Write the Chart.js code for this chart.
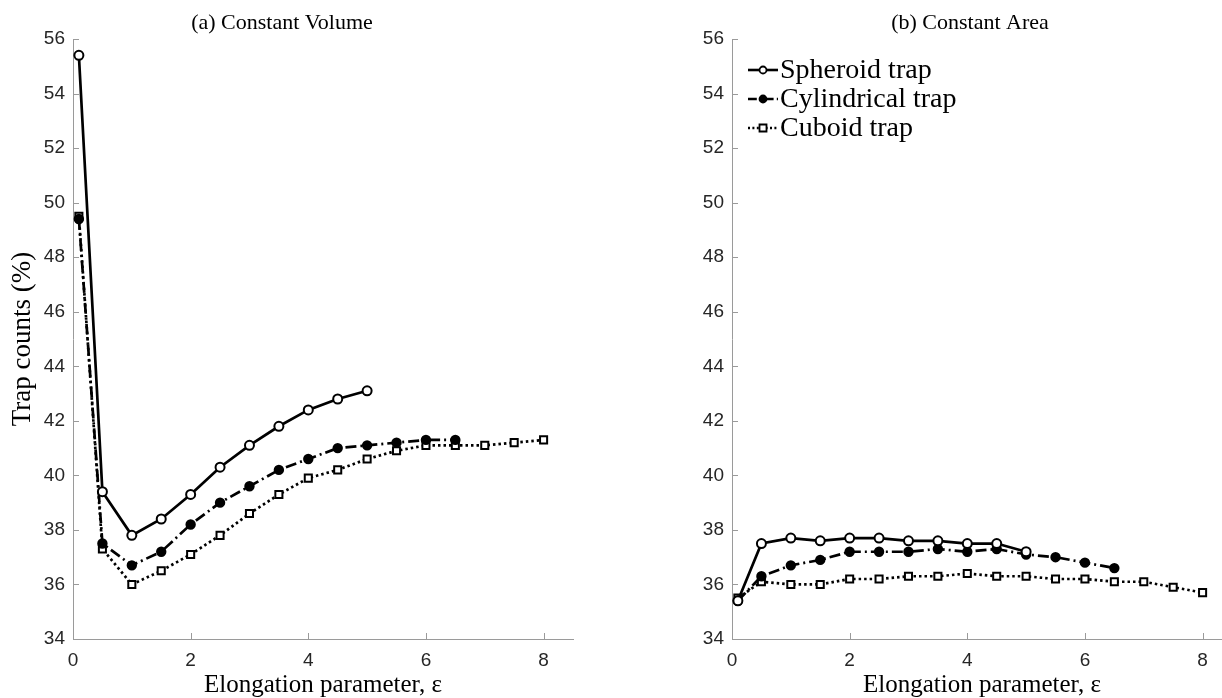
<!DOCTYPE html>
<html>
<head>
<meta charset="utf-8">
<script src="https://cdn.jsdelivr.net/npm/chart.js@4.4.1/dist/chart.umd.min.js"></script>
<style>
  body { margin: 0; background: #fff; }
  #wrap { position: relative; width: 1222px; height: 698px; overflow: hidden; }
  canvas { position: absolute; top: 0; }
  #volume { left: 0; }
  #area { left: 659px; }
</style>
</head>
<body>
<div id="wrap">
  <canvas id="volume" width="611" height="698"></canvas>
  <canvas id="area" width="611" height="698"></canvas>
</div>
<script>
// elongation parameter values shared by every series
const eps = [0.1, 0.5, 1, 1.5, 2, 2.5, 3, 3.5, 4, 4.5, 5, 5.5, 6, 6.5, 7, 7.5, 8];
const seriesNames = ['Spheroid trap', 'Cylindrical trap', 'Cuboid trap'];

// (a) constant volume
const volSpheroid = [55.4, 39.4, 37.8, 38.4, 39.3, 40.3, 41.1, 41.8, 42.4, 42.8, 43.1];
const volCylinder = [49.4, 37.5, 36.7, 37.2, 38.2, 39.0, 39.6, 40.2, 40.6, 41.0, 41.1, 41.2, 41.3, 41.3];
const volCuboid = [49.5, 37.3, 36.0, 36.5, 37.1, 37.8, 38.6, 39.3, 39.9, 40.2, 40.6, 40.9, 41.1, 41.1, 41.1, 41.2, 41.3];

// (b) constant area
const areaSpheroid = [35.4, 37.5, 37.7, 37.6, 37.7, 37.7, 37.6, 37.6, 37.5, 37.5, 37.2];
const areaCylinder = [35.4, 36.3, 36.7, 36.9, 37.2, 37.2, 37.2, 37.3, 37.2, 37.3, 37.1, 37.0, 36.8, 36.6];
const areaCuboid = [35.5, 36.1, 36.0, 36.0, 36.2, 36.2, 36.3, 36.3, 36.4, 36.3, 36.3, 36.2, 36.2, 36.1, 36.1, 35.9, 35.7];

const xTicks = [0, 2, 4, 6, 8];
const yTicks = [34, 36, 38, 40, 42, 44, 46, 48, 50, 52, 54, 56];

const SERIF = "'Liberation Serif', 'Times New Roman', serif";
const SANS = "'Liberation Sans', Arial, sans-serif";
const AXIS_GREY = '#9a9a9a';

const styles = [
    { dash: [], point: 'circle', radius: 4.5, fill: '#fff' },
    { dash: [11, 4, 2, 4], point: 'circle', radius: 4.2, fill: '#000' },
    { dash: [2.5, 3], point: 'rect', radius: 5, fill: '#fff' }
];

const toPoints = ys => ys.map((y, i) => ({ x: eps[i], y: y }));

const makeDatasets = function(seriesList) {
    return seriesList.map((ys, i) => ({
        label: seriesNames[i],
        data: toPoints(ys),
        borderColor: '#000',
        borderWidth: 2.7,
        borderDash: styles[i].dash,
        pointStyle: styles[i].point,
        pointRadius: styles[i].radius,
        pointBackgroundColor: styles[i].fill,
        pointBorderColor: '#000',
        pointBorderWidth: 2,
        tension: 0
    }));
};

// MATLAB-style ticks pointing into the axes
const innerTicks = {
    id: 'innerTicks',
    afterDraw(chart) {
        const ctx = chart.ctx;
        const area = chart.chartArea;
        const xs = chart.scales.x, ys = chart.scales.y;
        ctx.save();
        ctx.strokeStyle = AXIS_GREY;
        ctx.lineWidth = 1;
        ctx.beginPath();
        xs.ticks.forEach(t => {
            const px = Math.round(xs.getPixelForValue(t.value)) + 0.5;
            ctx.moveTo(px, area.bottom);
            ctx.lineTo(px, area.bottom - 6);
        });
        ys.ticks.forEach(t => {
            const py = Math.round(ys.getPixelForValue(t.value)) + 0.5;
            ctx.moveTo(area.left, py);
            ctx.lineTo(area.left + 6, py);
        });
        ctx.stroke();
        ctx.restore();
    }
};

const panelTitle = {
    id: 'panelTitle',
    afterDraw(chart, args, opts) {
        const ctx = chart.ctx;
        ctx.save();
        ctx.fillStyle = '#000';
        ctx.font = '22px ' + SERIF;
        ctx.textAlign = 'center';
        ctx.textBaseline = 'middle';
        ctx.fillText(opts.text, chart.chartArea.left + opts.dx, 23);
        ctx.restore();
    }
};

// legend with a short line sample and the marker in its middle
const lineLegend = {
    id: 'lineLegend',
    afterDraw(chart, args, opts) {
        if (!opts.show) return;
        const ctx = chart.ctx;
        const x0 = chart.chartArea.left + 16;
        chart.data.datasets.forEach((ds, i) => {
            const y = 70 + i * 29;
            const st = styles[i];
            ctx.save();
            ctx.strokeStyle = '#000';
            ctx.lineWidth = 2.6;
            ctx.setLineDash(st.dash.map(d => d * 0.8));
            ctx.beginPath();
            ctx.moveTo(x0, y);
            ctx.lineTo(x0 + 30, y);
            ctx.stroke();
            ctx.setLineDash([]);
            ctx.lineWidth = 1.8;
            ctx.fillStyle = st.fill;
            ctx.beginPath();
            if (st.point === 'rect') {
                ctx.rect(x0 + 15 - 3.5, y - 3.5, 7, 7);
            } else {
                ctx.arc(x0 + 15, y, 3.5, 0, Math.PI * 2);
            }
            ctx.fill();
            ctx.stroke();
            ctx.fillStyle = '#000';
            ctx.font = '28px ' + SERIF;
            ctx.textAlign = 'left';
            ctx.textBaseline = 'middle';
            ctx.fillText(ds.label, x0 + 32, y + 1);
            ctx.restore();
        });
    }
};

const makeChart = function(canvasId, seriesList, title, titleDx, withYTitle, withLegend) {
    const ctx = document.getElementById(canvasId).getContext('2d');
    return new Chart(ctx, {
        type: 'line',
        data: { datasets: makeDatasets(seriesList) },
        options: {
            responsive: false,
            animation: false,
            layout: { padding: { top: 39, right: 38, left: 0, bottom: 0 } },
            plugins: {
                legend: { display: false },
                tooltip: { enabled: false },
                panelTitle: { text: title, dx: titleDx },
                lineLegend: { show: withLegend }
            },
            scales: {
                x: {
                    type: 'linear',
                    min: 0,
                    max: 8.5,
                    afterBuildTicks: s => { s.ticks = xTicks.map(v => ({ value: v })); },
                    afterFit: s => { s.height = 59; },
                    grid: { display: false, drawTicks: false },
                    border: { display: true, color: AXIS_GREY, width: 1 },
                    ticks: { padding: 10, color: '#262626', font: { family: SANS, size: 19 } },
                    title: {
                        display: true,
                        text: 'Elongation parameter, ε',
                        color: '#000',
                        font: { family: SERIF, size: 25, lineHeight: 1 },
                        padding: { top: 0, bottom: 0 }
                    }
                },
                y: {
                    type: 'linear',
                    min: 34,
                    max: 56,
                    afterBuildTicks: s => { s.ticks = yTicks.map(v => ({ value: v })); },
                    afterFit: s => { s.width = 73; },
                    grid: { display: false, drawTicks: false },
                    border: { display: true, color: AXIS_GREY, width: 1 },
                    ticks: { padding: 8, color: '#262626', font: { family: SANS, size: 19 } },
                    title: {
                        display: withYTitle,
                        text: 'Trap counts (%)',
                        color: '#000',
                        font: { family: SERIF, size: 27, lineHeight: 1.2 },
                        padding: { top: 7, bottom: 0 }
                    }
                }
            }
        },
        plugins: [innerTicks, panelTitle, lineLegend]
    });
};

const volumeChart = makeChart('volume', [volSpheroid, volCylinder, volCuboid], '(a) Constant Volume', 209, true, false);
const areaChart = makeChart('area', [areaSpheroid, areaCylinder, areaCuboid], '(b) Constant Area', 238, false, true);
</script>
</body>
</html>
